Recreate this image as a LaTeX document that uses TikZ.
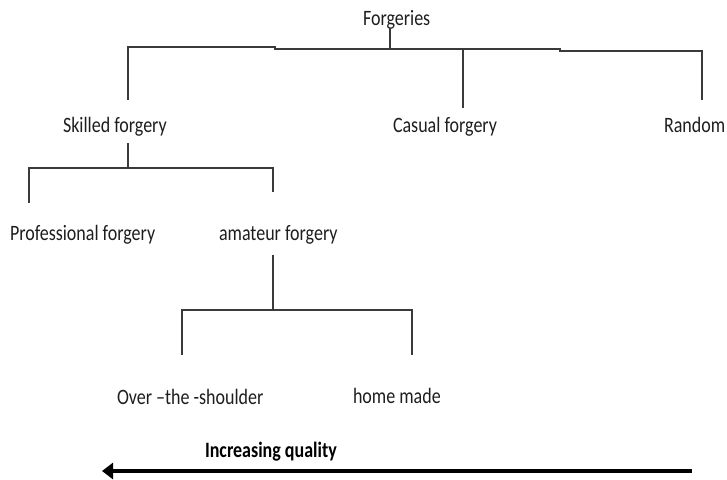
\documentclass[tikz,border=0pt]{standalone}
\usepackage{fontspec}
\setmainfont{Carlito}
\usepackage{graphicx}
\usetikzlibrary{arrows.meta}
\newcommand{\stretchtxt}[1]{\scalebox{1}[1.22]{#1}}
\definecolor{linegray}{HTML}{3A3A3A}
\definecolor{txtgray}{HTML}{1E1E1E}
\begin{document}
\begin{tikzpicture}[x=1pt,y=-1pt,
  lbl/.style={anchor=base west,inner sep=0pt,outer sep=0pt,text=txtgray,
    font=\fontsize{18}{20}\selectfont},
  boldlbl/.style={lbl,text=black,font=\fontsize{18}{20}\selectfont\bfseries},
  treeline/.style={draw=linegray,line width=1.3pt},
  qualarrow/.style={draw=black,line width=3.6pt,-{Triangle[length=11pt,width=16pt]}}]
\useasboundingbox (0,0) rectangle (727,479);
% labels
\node[lbl] (forg) at (363,25) {\stretchtxt{Forgeries}};
\node[lbl] (skill) at (63,132) {\stretchtxt{Skilled forgery}};
\node[lbl] (casual) at (393,132) {\stretchtxt{Casual forgery}};
\node[lbl] (random) at (664,132) {\stretchtxt{Random}};
\node[lbl] (prof) at (10,240) {\stretchtxt{Professional forgery}};
\node[lbl] (amat) at (219,240) {\stretchtxt{amateur forgery}};
\node[lbl] (over) at (117,404) {\stretchtxt{Over –the -shoulder}};
\node[lbl] (home) at (353,403) {\stretchtxt{home made}};
\node[boldlbl] (incq) at (205,457) {\stretchtxt{Increasing quality}};
% junction coordinates
\coordinate (f0) at (390,28);
\coordinate (f1) at (390,49);
\coordinate (s0) at (128,100);
\coordinate (s1) at (128,47);
\coordinate (j1) at (275,47);
\coordinate (j2) at (275,49);
\coordinate (c1) at (463,49);
\coordinate (c0) at (463,108);
\coordinate (j3) at (560,49);
\coordinate (j4) at (560,51);
\coordinate (r1) at (702,51);
\coordinate (r0) at (702,100);
\coordinate (sk0) at (128,143);
\coordinate (sk1) at (128,168);
\coordinate (p1) at (29,168);
\coordinate (p0) at (29,203);
\coordinate (a1) at (273,168);
\coordinate (a0) at (273,192);
\coordinate (am0) at (273,255);
\coordinate (am1) at (273,310);
\coordinate (o1) at (182,310);
\coordinate (o0) at (182,355);
\coordinate (h1) at (412,310);
\coordinate (h0) at (412,355);
\coordinate (arrtail) at (692,471);
\coordinate (arrtip) at (102,471);
% tree lines
\draw[treeline] (f0) -- (f1);
\draw[treeline] (s0) -- (s1) -- (j1) -- (j2) -- (j3) -- (j4) -- (r1) -- (r0);
\draw[treeline] (c1) -- (c0);
\draw[treeline] (sk0) -- (sk1);
\draw[treeline] (p0) -- (p1) -- (a1) -- (a0);
\draw[treeline] (am0) -- (am1);
\draw[treeline] (o0) -- (o1) -- (h1) -- (h0);
% arrow
\draw[qualarrow] (arrtail) -- (arrtip);
\end{tikzpicture}
\end{document}
